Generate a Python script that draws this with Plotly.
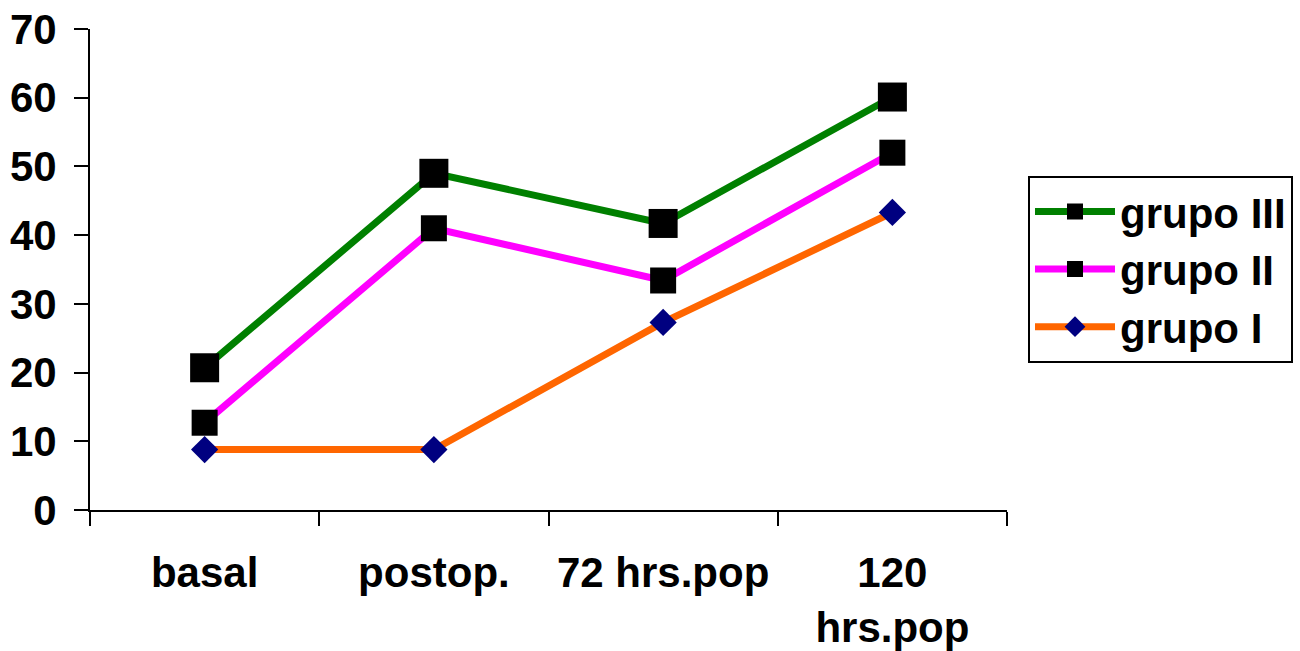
import plotly.graph_objects as go

categories = ["basal", "postop.", "72 hrs.pop", "120<br>hrs.pop"]
grupo_III = [20.7, 49.0, 41.7, 60.1]
grupo_II = [12.7, 41.0, 33.4, 52.0]
grupo_I = [8.8, 8.8, 27.3, 43.3]

fig = go.Figure()
fig.add_trace(go.Scatter(x=categories, y=grupo_III, name="grupo III", mode="lines+markers",
                         line=dict(color="#008000", width=7),
                         marker=dict(symbol="square", size=29, color="black"),
                         legendgroup="g3"))
fig.add_trace(go.Scatter(x=categories, y=grupo_II, name="grupo II", mode="lines+markers",
                         line=dict(color="#FF00FF", width=7),
                         marker=dict(symbol="square", size=26, color="black"),
                         legendgroup="g2"))
fig.add_trace(go.Scatter(x=categories, y=grupo_I, name="grupo I", mode="lines+markers",
                         line=dict(color="#FF6600", width=7),
                         marker=dict(symbol="diamond", size=21, color="#000080"),
                         legendgroup="g1"))

font = "Liberation Sans, Arial, sans-serif"
fig.update_layout(
    width=1300, height=651,
    margin=dict(l=90, r=293, t=29, b=141, autoexpand=False),
    paper_bgcolor="white", plot_bgcolor="white",
    font=dict(family=font, color="black", size=42),
    showlegend=True,
    legend=dict(x=1.0229, y=0.695, xanchor="left", yanchor="top",
                bordercolor="black", borderwidth=2,
                font=dict(family=font, size=42, color="black", weight="bold"),
                traceorder="grouped", tracegroupgap=0, itemwidth=80),
    xaxis=dict(type="category", showline=True, linecolor="black", linewidth=2,
               ticks="outside", tickson="boundaries", ticklen=14, tickcolor="black",
               tickwidth=2, showgrid=False, zeroline=False, automargin=False,
               ticklabelstandoff=25,
               tickfont=dict(family=font, size=42, color="black", weight="bold"),
               range=[-0.5, 3.5]),
    yaxis=dict(range=[0, 70], tickvals=[0, 10, 20, 30, 40, 50, 60, 70],
               showline=True, linecolor="black", linewidth=2,
               ticks="outside", ticklen=14, tickcolor="black", tickwidth=2,
               showgrid=False, zeroline=False, automargin=False,
               ticklabelstandoff=9,
               tickfont=dict(family=font, size=42, color="black", weight="bold")),
)

fig.write_html("out.html")
